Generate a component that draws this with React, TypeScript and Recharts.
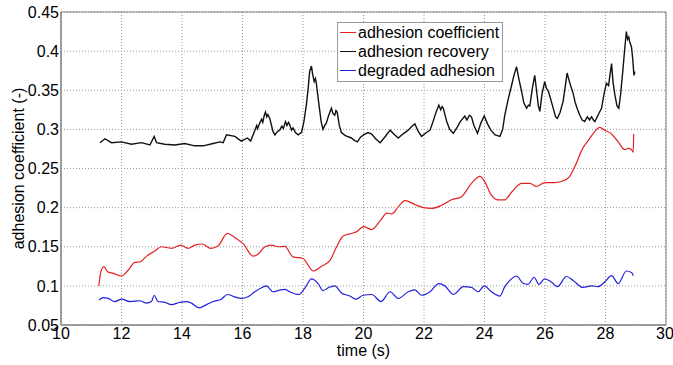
import { LineChart, Line, XAxis, YAxis, CartesianGrid, ReferenceArea, Legend } from 'recharts'

const FONT = '"Liberation Sans", Arial, sans-serif'

const X_TICKS = [10, 12, 14, 16, 18, 20, 22, 24, 26, 28, 30]
const Y_TICKS = [0.05, 0.1, 0.15, 0.2, 0.25, 0.3, 0.35, 0.4, 0.45]

// adhesion coefficient (red)
const coefTime = [
  11.25, 11.32, 11.42, 11.54, 11.73, 12.0, 12.22, 12.44, 12.61, 12.83, 13.1, 13.32, 13.65, 13.96, 14.2,
  14.42, 14.67, 14.95, 15.19, 15.5, 15.74, 16.02, 16.35, 16.52, 16.74, 16.96, 17.18, 17.4, 17.67, 18.0,
  18.17, 18.33, 18.61, 18.9, 19.11, 19.33, 19.6, 19.76, 20.0, 20.27, 20.55, 20.77, 20.93, 21.15, 21.37,
  21.7, 21.98, 22.25, 22.58, 22.91, 23.24, 23.57, 23.85, 24.01, 24.21, 24.45, 24.67, 24.9, 25.23, 25.5,
  25.72, 25.99, 26.32, 26.65, 26.81, 26.98, 27.25, 27.48, 27.64, 27.81, 27.97, 28.2, 28.42, 28.64, 28.75,
  28.86, 28.92, 28.93,
]
const coefValues = [
  0.1, 0.118, 0.1245, 0.118, 0.116, 0.1126, 0.12, 0.13, 0.1305, 0.138, 0.1446, 0.15, 0.148, 0.152, 0.148,
  0.152, 0.1535, 0.148, 0.151, 0.167, 0.162, 0.154, 0.138, 0.1406, 0.15, 0.152, 0.15, 0.1505, 0.137, 0.135,
  0.1266, 0.119, 0.125, 0.133, 0.15, 0.1637, 0.167, 0.169, 0.1756, 0.172, 0.183, 0.193, 0.192, 0.201, 0.209,
  0.204, 0.2, 0.199, 0.203, 0.21, 0.214, 0.231, 0.24, 0.233, 0.217, 0.21, 0.21, 0.22, 0.231, 0.231,
  0.227, 0.232, 0.232, 0.235, 0.2395, 0.252, 0.276, 0.2885, 0.297, 0.3025, 0.299, 0.294, 0.284, 0.274, 0.2757,
  0.274, 0.271, 0.294,
]

// adhesion recovery (black), noisy trace
const recoveryTime = [
  11.29, 11.45, 11.67, 12.0, 12.33, 12.66, 12.94, 13.08, 13.16, 13.43, 13.76, 14.09, 14.42, 14.7, 15.03,
  15.25, 15.36, 15.47, 15.75, 15.96, 16.16, 16.27, 16.41, 16.47, 16.5, 16.57, 16.63, 16.67, 16.72, 16.76,
  16.8, 16.84, 16.9, 16.96, 17.0, 17.07, 17.15, 17.23, 17.3, 17.35, 17.42, 17.47, 17.52, 17.56, 17.62,
  17.67, 17.75, 17.84, 17.95, 18.03, 18.11, 18.17, 18.22, 18.28, 18.32, 18.37, 18.41, 18.44, 18.5, 18.55,
  18.6, 18.66, 18.72, 18.77, 18.85, 18.94, 18.99, 19.05, 19.09, 19.13, 19.2, 19.27, 19.4, 19.6, 19.7,
  19.8, 19.9, 20.0, 20.15, 20.27, 20.4, 20.55, 20.7, 20.88, 21.0, 21.15, 21.3, 21.48, 21.6, 21.7,
  21.8, 21.92, 22.05, 22.2, 22.3, 22.4, 22.49, 22.55, 22.6, 22.64, 22.75, 22.85, 22.97, 23.1, 23.2,
  23.35, 23.42, 23.5, 23.57, 23.65, 23.77, 23.88, 23.99, 24.1, 24.21, 24.35, 24.51, 24.6, 24.67, 24.78,
  24.9, 24.98, 25.06, 25.1, 25.15, 25.23, 25.3, 25.39, 25.45, 25.5, 25.58, 25.66, 25.72, 25.78, 25.83,
  25.9, 25.99, 26.05, 26.1, 26.15, 26.25, 26.35, 26.41, 26.5, 26.6, 26.67, 26.73, 26.8, 26.88, 26.93,
  27.0, 27.08, 27.15, 27.23, 27.31, 27.4, 27.47, 27.54, 27.6, 27.65, 27.75, 27.87, 27.95, 28.03, 28.1,
  28.15, 28.2, 28.25, 28.31, 28.38, 28.44, 28.5, 28.58, 28.64, 28.69, 28.73, 28.77, 28.8, 28.86, 28.9,
  28.94, 28.97,
]
const recoveryValues = [
  0.283, 0.288, 0.283, 0.284, 0.281, 0.283, 0.28, 0.291, 0.283, 0.281, 0.28, 0.282, 0.279, 0.279, 0.282,
  0.284, 0.283, 0.293, 0.291, 0.285, 0.289, 0.285, 0.299, 0.305, 0.301, 0.308, 0.313, 0.309, 0.318, 0.322,
  0.316, 0.319, 0.314, 0.305, 0.298, 0.293, 0.297, 0.299, 0.304, 0.301, 0.31, 0.305, 0.309, 0.306, 0.299,
  0.302, 0.296, 0.293, 0.296, 0.31, 0.331, 0.352, 0.374, 0.381, 0.37, 0.361, 0.365, 0.359, 0.34, 0.325,
  0.31, 0.3, 0.305, 0.308, 0.318, 0.327, 0.32, 0.318, 0.324, 0.322, 0.305, 0.296, 0.292, 0.289, 0.286,
  0.284, 0.29, 0.293, 0.296, 0.294, 0.288, 0.283, 0.29, 0.299, 0.294, 0.289, 0.294, 0.299, 0.304, 0.307,
  0.298, 0.291, 0.295, 0.299, 0.31, 0.322, 0.331, 0.325, 0.329, 0.327, 0.31, 0.3, 0.295, 0.303, 0.31,
  0.317, 0.312, 0.318, 0.316, 0.305, 0.295, 0.308, 0.317, 0.307, 0.299, 0.293, 0.291, 0.3, 0.318, 0.338,
  0.357, 0.37, 0.38, 0.372, 0.362, 0.348, 0.334, 0.327, 0.331, 0.33, 0.352, 0.369, 0.35, 0.33, 0.323,
  0.345, 0.361, 0.352, 0.35, 0.344, 0.33, 0.316, 0.314, 0.322, 0.336, 0.355, 0.372, 0.362, 0.352, 0.346,
  0.334, 0.325, 0.318, 0.312, 0.31, 0.316, 0.312, 0.316, 0.312, 0.31, 0.318, 0.327, 0.345, 0.359, 0.356,
  0.37, 0.384, 0.36, 0.344, 0.33, 0.327, 0.345, 0.378, 0.405, 0.425, 0.415, 0.418, 0.412, 0.405, 0.39,
  0.369, 0.374,
]

// degraded adhesion (blue)
const degradedTime = [
  11.26, 11.4, 11.56, 11.78, 12.0, 12.28, 12.61, 12.83, 12.99, 13.08, 13.21, 13.43, 13.65, 13.93, 14.15,
  14.31, 14.56, 14.81, 15.03, 15.3, 15.5, 15.74, 15.96, 16.18, 16.41, 16.6, 16.79, 17.01, 17.23, 17.4,
  17.56, 17.86, 18.06, 18.28, 18.5, 18.66, 18.85, 19.05, 19.27, 19.55, 19.76, 19.98, 20.27, 20.58, 20.88,
  21.15, 21.48, 21.7, 21.92, 22.2, 22.49, 22.69, 22.97, 23.3, 23.57, 23.79, 23.99, 24.23, 24.51, 24.67,
  24.84, 25.06, 25.28, 25.44, 25.64, 25.8, 25.99, 26.21, 26.41, 26.71, 26.93, 27.25, 27.54, 27.76, 27.97,
  28.2, 28.42, 28.69, 28.86, 28.92,
]
const degradedValues = [
  0.082, 0.085, 0.084, 0.08, 0.083, 0.08, 0.081, 0.078, 0.08, 0.088, 0.08, 0.079, 0.076, 0.079, 0.08,
  0.078, 0.072, 0.076, 0.08, 0.083, 0.089, 0.086, 0.084, 0.086, 0.0925, 0.097, 0.1, 0.0925, 0.0946, 0.0955,
  0.0925, 0.089, 0.097, 0.109, 0.103, 0.094, 0.098, 0.1, 0.091, 0.087, 0.083, 0.088, 0.089, 0.08, 0.0925,
  0.084, 0.0925, 0.095, 0.088, 0.0925, 0.103, 0.1, 0.089, 0.099, 0.098, 0.0925, 0.1, 0.0925, 0.087, 0.099,
  0.107, 0.1126, 0.103, 0.102, 0.111, 0.102, 0.109, 0.105, 0.099, 0.112, 0.107, 0.098, 0.1, 0.099, 0.105,
  0.113, 0.103, 0.119, 0.117, 0.113,
]

const toPoints = (time: number[], values: number[]) => time.map((t, i) => ({ t, v: values[i] }))

const coefData = toPoints(coefTime, coefValues)
const recoveryData = toPoints(recoveryTime, recoveryValues)
const degradedData = toPoints(degradedTime, degradedValues)

const tickStyle = { fontSize: 16, fill: '#000', fontFamily: FONT }

function BoxLegend({ payload }: { payload?: Array<{ value: string; color: string }> }) {
  if (!payload) return null
  return (
    <div
      style={{
        border: '1px solid #9a9a9a',
        background: '#fff',
        padding: '0 3px 1px 2px',
        fontFamily: FONT,
        fontSize: 16,
        lineHeight: '19px',
        color: '#000',
      }}
    >
      {payload.map((item) => (
        <div key={item.value} style={{ display: 'flex', alignItems: 'center', whiteSpace: 'nowrap' }}>
          <span style={{ width: 16, height: 0, borderTop: `1px solid ${item.color}`, marginRight: 2 }} />
          <span>{item.value}</span>
        </div>
      ))}
    </div>
  )
}

export default function App() {
  return (
    <div style={{ position: 'absolute', left: 0, top: 0, background: '#fff' }}>
      <LineChart width={673} height={365} margin={{ top: 12, right: 7, left: 6, bottom: 0 }}>
        <CartesianGrid stroke="#9a9a9a" strokeDasharray="1 2" />
        <XAxis
          dataKey="t"
          type="number"
          domain={[10, 30]}
          ticks={X_TICKS}
          allowDataOverflow
          height={40}
          stroke="#808080"
          tickLine={false}
          tickSize={0}
          tickMargin={3}
          tick={tickStyle}
          label={{ value: 'time (s)', position: 'insideBottom', offset: 9, fill: '#000', fontSize: 16, fontFamily: FONT }}
        />
        <YAxis
          type="number"
          domain={[0.05, 0.45]}
          ticks={Y_TICKS}
          allowDataOverflow
          width={55}
          stroke="#808080"
          tickLine={false}
          tickSize={0}
          tickMargin={2}
          tick={tickStyle}
          label={{
            value: 'adhesion coefficient (-)',
            angle: -90,
            position: 'center',
            dx: -15,
            fill: '#000',
            fontSize: 16,
            fontFamily: FONT,
          }}
        />
        <ReferenceArea x1={10} x2={30} y1={0.05} y2={0.45} fill="none" stroke="#808080" strokeWidth={1} />
        <Line
          data={coefData}
          dataKey="v"
          name="adhesion coefficient"
          stroke="#e52222"
          strokeWidth={1.2}
          dot={false}
          type="monotone"
          isAnimationActive={false}
        />
        <Line
          data={recoveryData}
          dataKey="v"
          name="adhesion recovery"
          stroke="#111"
          strokeWidth={1.4}
          dot={false}
          type="linear"
          isAnimationActive={false}
        />
        <Line
          data={degradedData}
          dataKey="v"
          name="degraded adhesion"
          stroke="#2020dd"
          strokeWidth={1.2}
          dot={false}
          type="monotone"
          isAnimationActive={false}
        />
        <Legend
          layout="vertical"
          align="center"
          verticalAlign="middle"
          content={<BoxLegend />}
          wrapperStyle={{ left: 337, top: 22, width: 'auto', height: 'auto' }}
        />
      </LineChart>
    </div>
  )
}
